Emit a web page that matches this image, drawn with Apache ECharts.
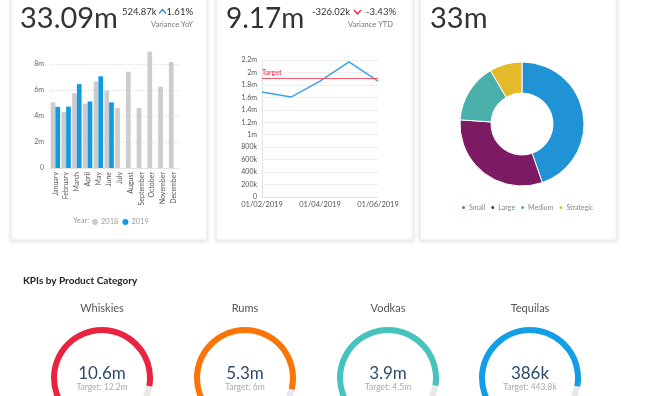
<!DOCTYPE html>
<html>
<head>
<meta charset="utf-8">
<script src="https://cdn.jsdelivr.net/npm/echarts@6/dist/echarts.min.js"></script>
<style>
html, body { margin: 0; padding: 0; background: #fff; }
#echarts { width: 652px; height: 396px; }
</style>
</head>
<body>
<div id="echarts"></div>
<script>
// monthly sales (m)
var months = ['January', 'February', 'March', 'April', 'May', 'June', 'July', 'August', 'September', 'October', 'November', 'December'];
var sales2018 = [5.05, 4.3, 5.75, 4.95, 6.65, 5.95, 4.6, 7.4, 4.6, 8.95, 6.25, 8.15];
var sales2019 = [4.7, 4.72, 6.45, 5.12, 7.05, 5.05];

// YTD line
var ytdDates = ['01/02/2019', '01/03/2019', '01/04/2019', '01/05/2019', '01/06/2019'];
var ytdValues = [1685000, 1605000, 1860000, 2170000, 1860000];
var ytdTarget = 1900000;

// donut
var segNames = ['Small', 'Large', 'Medium', 'Strategic'];
var segValues = [14.75, 10.35, 5.1, 2.8];
var segColors = ['#1f93d5', '#7c1a63', '#4bb0aa', '#e4ba2a'];

// gauges
var kpiNames = ['Whiskies', 'Rums', 'Vodkas', 'Tequilas'];
var kpiActual = [10.6, 5.3, 3.9, 0.386];
var kpiTarget = [12.2, 6, 4.5, 0.4438];
var kpiActualText = ['10.6m', '5.3m', '3.9m', '386k'];
var kpiTargetText = ['12.2m', '6m', '4.5m', '443.8k'];
var kpiColors = ['#ea2340', '#fc7406', '#45c3bc', '#139ee8'];
var kpiCenterX = [102, 245, 388, 530];

var FONT = 'Lato';
var myChart = echarts.init(document.getElementById('echarts'));

function card(x, w) {
    return {
        type: 'rect', z: -100,
        shape: {x: x, y: -10, width: w, height: 250},
        style: {fill: '#fff', stroke: '#ececec', lineWidth: 1, shadowBlur: 4, shadowColor: 'rgba(0,0,0,0.12)', shadowOffsetY: 1}
    };
}
function txt(x, y, s, size, color, align, weight) {
    return {
        type: 'text', z: 100, x: x, y: y,
        style: {text: s, font: (weight || 'normal') + ' ' + size + 'px ' + FONT, fill: color, textAlign: align || 'left', textVerticalAlign: 'middle'}
    };
}
function chevron(x, y, up, color) {
    var p = up ? [[x, y + 4], [x + 3.5, y], [x + 7, y + 4]] : [[x, y], [x + 3.5, y + 4], [x + 7, y]];
    return {type: 'polyline', z: 100, shape: {points: p}, style: {stroke: color, lineWidth: 1.3, fill: null}};
}

var gauges = kpiNames.map(function (name, i) {
    return {
        type: 'gauge',
        center: [kpiCenterX[i], 378],
        radius: 51,
        startAngle: 225,
        endAngle: -45,
        min: 0,
        max: kpiTarget[i],
        progress: {show: true, width: 6, itemStyle: {color: kpiColors[i]}},
        axisLine: {lineStyle: {width: 6, color: [[1, '#e8e8e8']]}},
        axisTick: {show: false},
        splitLine: {show: false},
        axisLabel: {show: false},
        pointer: {show: false},
        anchor: {show: false},
        title: {offsetCenter: [0, -70], fontSize: 11, color: '#555', fontFamily: FONT},
        detail: {
            offsetCenter: [0, 2],
            fontWeight: 'normal',
            formatter: function () {
                return '{v|' + kpiActualText[i] + '}\n{t|Target: ' + kpiTargetText[i] + '}';
            },
            rich: {
                v: {fontSize: 17, color: '#2c4a6c', fontFamily: FONT, fontWeight: 'normal', lineHeight: 14},
                t: {fontSize: 8.5, color: '#aaa', fontFamily: FONT, fontWeight: 'normal', lineHeight: 12}
            }
        },
        data: [{value: kpiActual[i], name: name}]
    };
});

var option = {
    backgroundColor: '#fff',
    animation: false,
    textStyle: {fontFamily: FONT},
    graphic: [
        card(11, 196), card(216, 197), card(420, 197),
        txt(20, 19, '33.09m', 29, '#333'),
        txt(122, 12, '524.87k', 9.5, '#333'),
        chevron(159, 9.5, true, '#1f93d5'),
        txt(193, 12, '1.61%', 9.5, '#333', 'right'),
        txt(193, 25, 'Variance YoY', 7.5, '#777', 'right'),
        txt(226, 19, '9.17m', 28, '#333'),
        txt(312, 12, '-326.02k', 9.5, '#333'),
        chevron(354, 10, false, '#e8233f'),
        txt(396, 12, '-3.43%', 9.5, '#333', 'right'),
        txt(393, 25, 'Variance YTD', 7.5, '#777', 'right'),
        txt(430, 19, '33m', 29, '#333'),
        txt(73, 221, 'Year:', 7.5, '#999'),
        txt(23, 281, 'KPIs by Product Category', 10, '#222', 'left', 'bold')
    ],
    legend: [
        {
            data: ['2018', '2019'],
            left: 92, top: 218, padding: 0,
            icon: 'circle', itemWidth: 6, itemHeight: 6, itemGap: 4,
            textStyle: {fontSize: 7.5, color: '#999', padding: [0, 0, 0, -2]}
        },
        {
            data: segNames,
            left: 460, top: 204, padding: 0,
            icon: 'circle', itemWidth: 5, itemHeight: 5, itemGap: 4,
            textStyle: {fontSize: 7, color: '#888', padding: [0, 0, 0, -2]}
        }
    ],
    grid: [
        {left: 50, top: 64, width: 129, height: 104},
        {left: 262, top: 60, width: 116, height: 137}
    ],
    xAxis: [
        {
            type: 'category', gridIndex: 0, data: months,
            axisTick: {show: false},
            axisLine: {lineStyle: {color: '#e2e2e2'}},
            axisLabel: {rotate: 90, fontSize: 7, color: '#555', margin: 4, interval: 0}
        },
        {
            type: 'category', gridIndex: 1, data: ytdDates, boundaryGap: false,
            axisTick: {show: false},
            axisLine: {lineStyle: {color: '#e2e2e2'}},
            axisLabel: {fontSize: 7.5, color: '#555', interval: 1, margin: 4}
        }
    ],
    yAxis: [
        {
            type: 'value', gridIndex: 0, min: 0, max: 8, interval: 2,
            axisLine: {show: false}, axisTick: {show: false},
            splitLine: {lineStyle: {type: 'dotted', color: '#e0e0e0'}},
            axisLabel: {fontSize: 7, color: '#666', margin: 6, formatter: function (v) { return v === 0 ? '0' : v + 'm'; }}
        },
        {
            type: 'value', gridIndex: 1, min: 0, max: 2200000, interval: 200000,
            axisLine: {show: true, lineStyle: {color: '#e2e2e2'}}, axisTick: {show: false},
            splitLine: {lineStyle: {type: 'dotted', color: '#e0e0e0'}},
            axisLabel: {
                fontSize: 7, color: '#555', margin: 5,
                formatter: function (v) {
                    if (v === 0) return '0';
                    if (v < 1000000) return (v / 1000) + 'k';
                    return +(v / 1000000).toFixed(1) + 'm';
                }
            }
        }
    ],
    series: [
        {
            name: '2018', type: 'bar', xAxisIndex: 0, yAxisIndex: 0,
            data: sales2018, barWidth: 4.7, barGap: '0%', clip: false,
            itemStyle: {color: '#cccccc'}
        },
        {
            name: '2019', type: 'bar', xAxisIndex: 0, yAxisIndex: 0,
            data: sales2019, barWidth: 4.7, barGap: '0%', clip: false,
            itemStyle: {color: '#119be6'}
        },
        {
            name: 'YTD', type: 'line', xAxisIndex: 1, yAxisIndex: 1,
            data: ytdValues, showSymbol: false,
            lineStyle: {color: '#3aa3ec', width: 1.5},
            itemStyle: {color: '#3aa3ec'},
            markLine: {
                silent: true, symbol: 'none',
                lineStyle: {color: '#f25a6c', width: 1, type: 'solid'},
                label: {position: 'insideStartTop', formatter: 'Target', color: '#f0506e', fontSize: 7, fontWeight: 'bold', distance: [0, 2]},
                data: [{yAxis: ytdTarget}]
            }
        },
        {
            type: 'pie', center: [522, 124], radius: [31, 62],
            startAngle: 90, label: {show: false}, labelLine: {show: false},
            itemStyle: {borderColor: '#fff', borderWidth: 1},
            data: segNames.map(function (n, i) {
                return {name: n, value: segValues[i], itemStyle: {color: segColors[i]}};
            })
        }
    ].concat(gauges)
};

myChart.setOption(option);
</script>
</body>
</html>
